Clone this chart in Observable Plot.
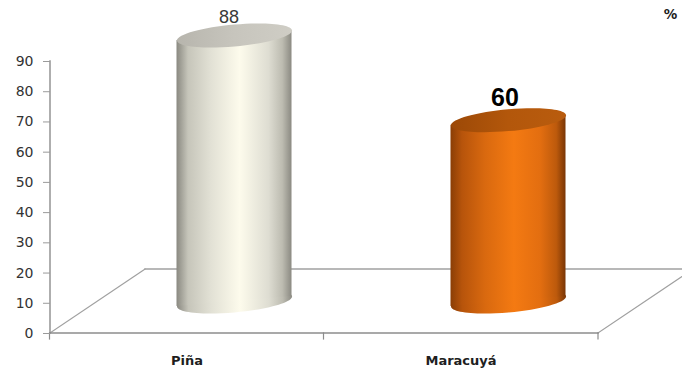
<!DOCTYPE html>
<html>
<head>
<meta charset="utf-8">
<script src="https://cdn.jsdelivr.net/npm/d3@7"></script>
<script src="https://cdn.jsdelivr.net/npm/@observablehq/plot@0.6"></script>
<style>
  html, body { margin: 0; padding: 0; background: #fff; overflow: hidden; }
  #chart svg { display: block; }
</style>
</head>
<body>
<div id="chart"></div>
<script>
// Preference (%) for each fruit
const fruits = ["Piña", "Maracuyá"];
const percents = [88, 60];
const gradientKeys = ["pina", "maracuya"];
const yTicks = [0, 10, 20, 30, 40, 50, 60, 70, 80, 90];
const unitLabel = "%";

const rows = fruits.map((fruit, i) => ({fruit, value: percents[i], key: gradientKeys[i]}));

// 3-D box depth in pixels; cylinders stand half-way into the box
const depthX = 95, depthY = -64;
const cylDx = depthX / 2, cylDy = depthY / 2;
const cylRadius = 57.5;
const ellipseRatio = 0.19;
const tiltDeg = -5; // slight perspective tilt of the cylinders

// Flat ellipse symbol for cylinder caps (bezier approximation)
function ellipseSymbol(ratio) {
  return {
    draw(context, size) {
      const rx = Math.sqrt(size / Math.PI), ry = rx * ratio, k = 0.5522847498;
      context.moveTo(rx, 0);
      context.bezierCurveTo(rx, ry * k, rx * k, ry, 0, ry);
      context.bezierCurveTo(-rx * k, ry, -rx, ry * k, -rx, 0);
      context.bezierCurveTo(-rx, -ry * k, -rx * k, -ry, 0, -ry);
      context.bezierCurveTo(rx * k, -ry, rx, -ry * k, rx, 0);
      context.closePath();
    }
  };
}
const cap = ellipseSymbol(ellipseRatio);

const plot = Plot.plot({
  width: 682,
  height: 369,
  marginLeft: 50,
  marginRight: 84,
  marginTop: 61,
  marginBottom: 36,
  style: {fontFamily: "'DejaVu Sans', sans-serif", background: "#fff", color: "#333"},
  x: {domain: fruits, paddingInner: 0.58, paddingOuter: 0.29, label: null},
  y: {domain: [0, 90], label: null},
  marks: [
    Plot.axisY({ticks: yTicks, tickSize: 7, tickPadding: 10, fontSize: 14, stroke: "#9a9a9a", fill: "#333"}),
    Plot.axisX({tickSize: 0, tickPadding: 22, fontSize: 13, fontWeight: "bold", fill: "#1e1e1e"}),
    // bottom cap, body, top cap of each cylinder
    Plot.dot(rows, {x: "fruit", y: () => 0, r: cylRadius, symbol: cap,
      fill: d => `url(#body-${d.key})`, dx: cylDx, dy: cylDy}),
    Plot.barY(rows, {x: "fruit", y: "value", fill: d => `url(#body-${d.key})`, dx: cylDx, dy: cylDy}),
    Plot.dot(rows, {x: "fruit", y: "value", r: cylRadius, symbol: cap,
      fill: d => `url(#top-${d.key})`, dx: cylDx, dy: cylDy}),
    // value labels
    Plot.text(rows.slice(0, 1), {x: "fruit", y: "value", text: d => String(d.value),
      dx: 42, dy: -50, fontSize: 18, fontFamily: "'Liberation Sans', sans-serif", fill: "#3a3a3a"}),
    Plot.text(rows.slice(1), {x: "fruit", y: "value", text: d => String(d.value),
      dx: 44, dy: -54, fontSize: 25, fontWeight: "bold", fontFamily: "'Liberation Sans', sans-serif", fill: "#000"}),
    Plot.text([unitLabel], {frameAnchor: "top-right", textAnchor: "middle", lineAnchor: "middle",
      dx: 72, dy: -47, fontSize: 13.5, fontWeight: "bold", fill: "#1e1e1e"})
  ]
});

document.getElementById("chart").appendChild(plot);

const svg = d3.select(plot);

// Tilt each cylinder (body and caps) about its own vertical axis
svg.selectAll('g[aria-label="bar"] rect').each(function() {
  const r = d3.select(this);
  const cx = +r.attr("x") + +r.attr("width") / 2;
  r.attr("transform", `translate(${cx},0) skewY(${tiltDeg}) translate(${-cx},0)`);
});
svg.selectAll('g[aria-label="dot"] path').each(function() {
  const p = d3.select(this);
  p.attr("transform", `${p.attr("transform") || ""} skewY(${tiltDeg})`);
});

// Gradients for the cylinder shading
const defs = svg.insert("defs", ":first-child");
function linear(id, stops) {
  const g = defs.append("linearGradient").attr("id", id).attr("x1", 0).attr("x2", 1).attr("y1", 0).attr("y2", 0);
  stops.forEach(([o, c]) => g.append("stop").attr("offset", o).attr("stop-color", c));
}
linear("body-pina", [[0, "#8a8981"], [0.1, "#c6c5ba"], [0.3, "#e2e1d5"], [0.55, "#fdfbec"], [0.8, "#deddd2"], [0.92, "#bdbcb1"], [1, "#8b8a82"]]);
linear("body-maracuya", [[0, "#8a3e06"], [0.1, "#b7540b"], [0.3, "#d9690f"], [0.55, "#f47a12"], [0.78, "#e36e10"], [0.92, "#bd5a0c"], [1, "#7a3605"]]);
linear("top-pina", [[0, "#b7b5ad"], [0.5, "#c7c5bd"], [1, "#cfcdc5"]]);
linear("top-maracuya", [[0, "#9c4907"], [0.5, "#b3570b"], [1, "#b95c0e"]]);

// Floor of the 3-D box and axis lines, placed with the chart's scales
const xs = plot.scale("x"), ys = plot.scale("y");
const [xL, xR] = xs.range;
const yBase = ys.apply(0), yTop = ys.apply(d3.max(yTicks));
const step = xs.step ?? (xR - xL) / fruits.length;
const bw = xs.bandwidth ?? step * 0.42;
const bounds = fruits.map(f => xs.apply(f) - (step - bw) / 2).concat([xR]);

const floor = svg.insert("g", "defs + *")
  .attr("fill", "none").attr("stroke-linecap", "square");
const seg = (x1, y1, x2, y2, color, w) =>
  floor.append("line").attr("x1", x1).attr("y1", y1).attr("x2", x2).attr("y2", y2)
    .attr("stroke", color).attr("stroke-width", w);
seg(xL, yBase, xL + depthX, yBase + depthY, "#a0a0a0", 1.2);
seg(xL + depthX, yBase + depthY, xR + depthX, yBase + depthY, "#a0a0a0", 1.4);
seg(xR, yBase, xR + depthX, yBase + depthY, "#a0a0a0", 1.2);
seg(xL, yBase, xR, yBase, "#8c8c8c", 1.4);
seg(xL, yTop, xL, yBase, "#8c8c8c", 1.4);
bounds.forEach(x => seg(x, yBase, x, yBase + 6, "#8c8c8c", 1.2));
</script>
</body>
</html>
